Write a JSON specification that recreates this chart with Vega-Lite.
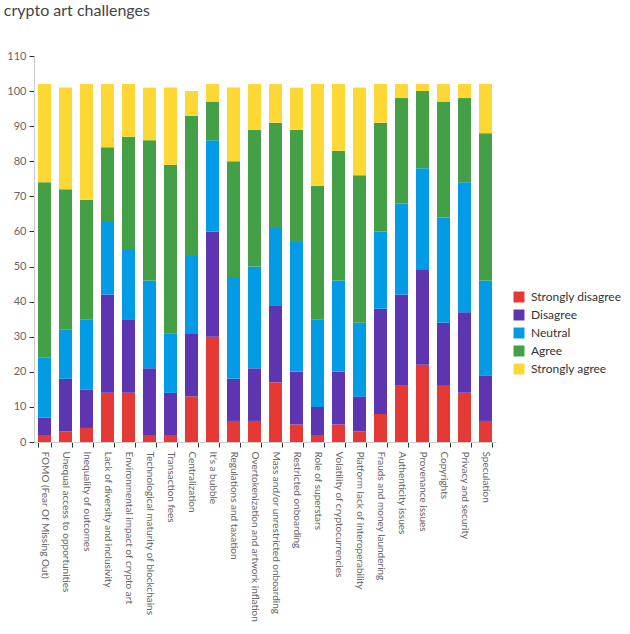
{
  "$schema": "https://vega.github.io/schema/vega-lite/v6.json",
  "width": 462,
  "height": 386,
  "padding": {"left": 3, "top": 3, "right": 0, "bottom": 0},
  "autosize": {"type": "pad"},
  "title": {"text": "crypto art challenges", "anchor": "start", "frame": "bounds", "fontSize": 16, "fontWeight": "normal", "color": "#444", "font": "Lato", "offset": 31, "dx": -3},
  "config": {"view": {"stroke": null}, "font": "Lato"},
  "data": {"values": [
    {"c": "FOMO (Fear Of Missing Out)", "r": "Strongly disagree", "v": 2},
    {"c": "FOMO (Fear Of Missing Out)", "r": "Disagree", "v": 5},
    {"c": "FOMO (Fear Of Missing Out)", "r": "Neutral", "v": 17},
    {"c": "FOMO (Fear Of Missing Out)", "r": "Agree", "v": 50},
    {"c": "FOMO (Fear Of Missing Out)", "r": "Strongly agree", "v": 28},
    {"c": "Unequal access to opportunities", "r": "Strongly disagree", "v": 3},
    {"c": "Unequal access to opportunities", "r": "Disagree", "v": 15},
    {"c": "Unequal access to opportunities", "r": "Neutral", "v": 14},
    {"c": "Unequal access to opportunities", "r": "Agree", "v": 40},
    {"c": "Unequal access to opportunities", "r": "Strongly agree", "v": 29},
    {"c": "Inequality of outcomes", "r": "Strongly disagree", "v": 4},
    {"c": "Inequality of outcomes", "r": "Disagree", "v": 11},
    {"c": "Inequality of outcomes", "r": "Neutral", "v": 20},
    {"c": "Inequality of outcomes", "r": "Agree", "v": 34},
    {"c": "Inequality of outcomes", "r": "Strongly agree", "v": 33},
    {"c": "Lack of diversity and inclusivity", "r": "Strongly disagree", "v": 14},
    {"c": "Lack of diversity and inclusivity", "r": "Disagree", "v": 28},
    {"c": "Lack of diversity and inclusivity", "r": "Neutral", "v": 21},
    {"c": "Lack of diversity and inclusivity", "r": "Agree", "v": 21},
    {"c": "Lack of diversity and inclusivity", "r": "Strongly agree", "v": 18},
    {"c": "Environmental impact of crypto art", "r": "Strongly disagree", "v": 14},
    {"c": "Environmental impact of crypto art", "r": "Disagree", "v": 21},
    {"c": "Environmental impact of crypto art", "r": "Neutral", "v": 20},
    {"c": "Environmental impact of crypto art", "r": "Agree", "v": 32},
    {"c": "Environmental impact of crypto art", "r": "Strongly agree", "v": 15},
    {"c": "Technological maturity of blockchains", "r": "Strongly disagree", "v": 2},
    {"c": "Technological maturity of blockchains", "r": "Disagree", "v": 19},
    {"c": "Technological maturity of blockchains", "r": "Neutral", "v": 25},
    {"c": "Technological maturity of blockchains", "r": "Agree", "v": 40},
    {"c": "Technological maturity of blockchains", "r": "Strongly agree", "v": 15},
    {"c": "Transaction fees", "r": "Strongly disagree", "v": 2},
    {"c": "Transaction fees", "r": "Disagree", "v": 12},
    {"c": "Transaction fees", "r": "Neutral", "v": 17},
    {"c": "Transaction fees", "r": "Agree", "v": 48},
    {"c": "Transaction fees", "r": "Strongly agree", "v": 22},
    {"c": "Centralization", "r": "Strongly disagree", "v": 13},
    {"c": "Centralization", "r": "Disagree", "v": 18},
    {"c": "Centralization", "r": "Neutral", "v": 22},
    {"c": "Centralization", "r": "Agree", "v": 40},
    {"c": "Centralization", "r": "Strongly agree", "v": 7},
    {"c": "It's a bubble", "r": "Strongly disagree", "v": 30},
    {"c": "It's a bubble", "r": "Disagree", "v": 30},
    {"c": "It's a bubble", "r": "Neutral", "v": 26},
    {"c": "It's a bubble", "r": "Agree", "v": 11},
    {"c": "It's a bubble", "r": "Strongly agree", "v": 5},
    {"c": "Regulations and taxation", "r": "Strongly disagree", "v": 6},
    {"c": "Regulations and taxation", "r": "Disagree", "v": 12},
    {"c": "Regulations and taxation", "r": "Neutral", "v": 29},
    {"c": "Regulations and taxation", "r": "Agree", "v": 33},
    {"c": "Regulations and taxation", "r": "Strongly agree", "v": 21},
    {"c": "Overtokenization and artwork inflation", "r": "Strongly disagree", "v": 6},
    {"c": "Overtokenization and artwork inflation", "r": "Disagree", "v": 15},
    {"c": "Overtokenization and artwork inflation", "r": "Neutral", "v": 29},
    {"c": "Overtokenization and artwork inflation", "r": "Agree", "v": 39},
    {"c": "Overtokenization and artwork inflation", "r": "Strongly agree", "v": 13},
    {"c": "Mass and/or unrestricted onboarding", "r": "Strongly disagree", "v": 17},
    {"c": "Mass and/or unrestricted onboarding", "r": "Disagree", "v": 22},
    {"c": "Mass and/or unrestricted onboarding", "r": "Neutral", "v": 22},
    {"c": "Mass and/or unrestricted onboarding", "r": "Agree", "v": 30},
    {"c": "Mass and/or unrestricted onboarding", "r": "Strongly agree", "v": 11},
    {"c": "Restricted onboarding", "r": "Strongly disagree", "v": 5},
    {"c": "Restricted onboarding", "r": "Disagree", "v": 15},
    {"c": "Restricted onboarding", "r": "Neutral", "v": 37},
    {"c": "Restricted onboarding", "r": "Agree", "v": 32},
    {"c": "Restricted onboarding", "r": "Strongly agree", "v": 12},
    {"c": "Role of superstars", "r": "Strongly disagree", "v": 2},
    {"c": "Role of superstars", "r": "Disagree", "v": 8},
    {"c": "Role of superstars", "r": "Neutral", "v": 25},
    {"c": "Role of superstars", "r": "Agree", "v": 38},
    {"c": "Role of superstars", "r": "Strongly agree", "v": 29},
    {"c": "Volatility of cryptocurrencies", "r": "Strongly disagree", "v": 5},
    {"c": "Volatility of cryptocurrencies", "r": "Disagree", "v": 15},
    {"c": "Volatility of cryptocurrencies", "r": "Neutral", "v": 26},
    {"c": "Volatility of cryptocurrencies", "r": "Agree", "v": 37},
    {"c": "Volatility of cryptocurrencies", "r": "Strongly agree", "v": 19},
    {"c": "Platform lack of interoperability", "r": "Strongly disagree", "v": 3},
    {"c": "Platform lack of interoperability", "r": "Disagree", "v": 10},
    {"c": "Platform lack of interoperability", "r": "Neutral", "v": 21},
    {"c": "Platform lack of interoperability", "r": "Agree", "v": 42},
    {"c": "Platform lack of interoperability", "r": "Strongly agree", "v": 25},
    {"c": "Frauds and money laundering", "r": "Strongly disagree", "v": 8},
    {"c": "Frauds and money laundering", "r": "Disagree", "v": 30},
    {"c": "Frauds and money laundering", "r": "Neutral", "v": 22},
    {"c": "Frauds and money laundering", "r": "Agree", "v": 31},
    {"c": "Frauds and money laundering", "r": "Strongly agree", "v": 11},
    {"c": "Authenticity issues", "r": "Strongly disagree", "v": 16},
    {"c": "Authenticity issues", "r": "Disagree", "v": 26},
    {"c": "Authenticity issues", "r": "Neutral", "v": 26},
    {"c": "Authenticity issues", "r": "Agree", "v": 30},
    {"c": "Authenticity issues", "r": "Strongly agree", "v": 4},
    {"c": "Provenance issues", "r": "Strongly disagree", "v": 22},
    {"c": "Provenance issues", "r": "Disagree", "v": 27},
    {"c": "Provenance issues", "r": "Neutral", "v": 29},
    {"c": "Provenance issues", "r": "Agree", "v": 22},
    {"c": "Provenance issues", "r": "Strongly agree", "v": 2},
    {"c": "Copyrights", "r": "Strongly disagree", "v": 16},
    {"c": "Copyrights", "r": "Disagree", "v": 18},
    {"c": "Copyrights", "r": "Neutral", "v": 30},
    {"c": "Copyrights", "r": "Agree", "v": 33},
    {"c": "Copyrights", "r": "Strongly agree", "v": 5},
    {"c": "Privacy and security", "r": "Strongly disagree", "v": 14},
    {"c": "Privacy and security", "r": "Disagree", "v": 23},
    {"c": "Privacy and security", "r": "Neutral", "v": 37},
    {"c": "Privacy and security", "r": "Agree", "v": 24},
    {"c": "Privacy and security", "r": "Strongly agree", "v": 4},
    {"c": "Speculation", "r": "Strongly disagree", "v": 6},
    {"c": "Speculation", "r": "Disagree", "v": 13},
    {"c": "Speculation", "r": "Neutral", "v": 27},
    {"c": "Speculation", "r": "Agree", "v": 42},
    {"c": "Speculation", "r": "Strongly agree", "v": 14}
  ]},
  "transform": [
    {"calculate": "indexof(['Strongly disagree','Disagree','Neutral','Agree','Strongly agree'], datum.r)", "as": "o"}
  ],
  "mark": {"type": "bar"},
  "encoding": {
    "x": {
      "field": "c", "type": "nominal", "sort": null,
      "scale": {"paddingInner": 0.38, "paddingOuter": 0.19},
      "axis": {"title": null, "labelAngle": 90, "labelFontSize": 10, "labelColor": "#666", "labelPadding": 4, "tickBand": "extent", "tickColor": "#333", "tickSize": 5, "domainColor": "#ccc", "labelLimit": 300}
    },
    "y": {
      "field": "v", "type": "quantitative", "stack": "zero",
      "scale": {"domain": [0, 110], "nice": false},
      "axis": {"title": null, "values": [0,10,20,30,40,50,60,70,80,90,100,110], "grid": false, "labelFontSize": 11, "labelColor": "#666", "tickColor": "#333", "tickSize": 5, "domainColor": "#ccc", "labelPadding": 3}
    },
    "order": {"field": "o", "type": "quantitative", "sort": "ascending"},
    "color": {
      "field": "r", "type": "nominal",
      "sort": ["Strongly disagree", "Disagree", "Neutral", "Agree", "Strongly agree"],
      "scale": {"domain": ["Strongly disagree", "Disagree", "Neutral", "Agree", "Strongly agree"], "range": ["#e53935", "#5e35b1", "#039be5", "#43a047", "#fdd835"]},
      "legend": {"title": null, "orient": "none", "legendX": 479, "legendY": 235, "symbolType": "square", "symbolSize": 120, "symbolStrokeWidth": 0, "labelFontSize": 12, "labelColor": "#333", "rowPadding": 6, "labelOffset": 6}
    }
  }
}
